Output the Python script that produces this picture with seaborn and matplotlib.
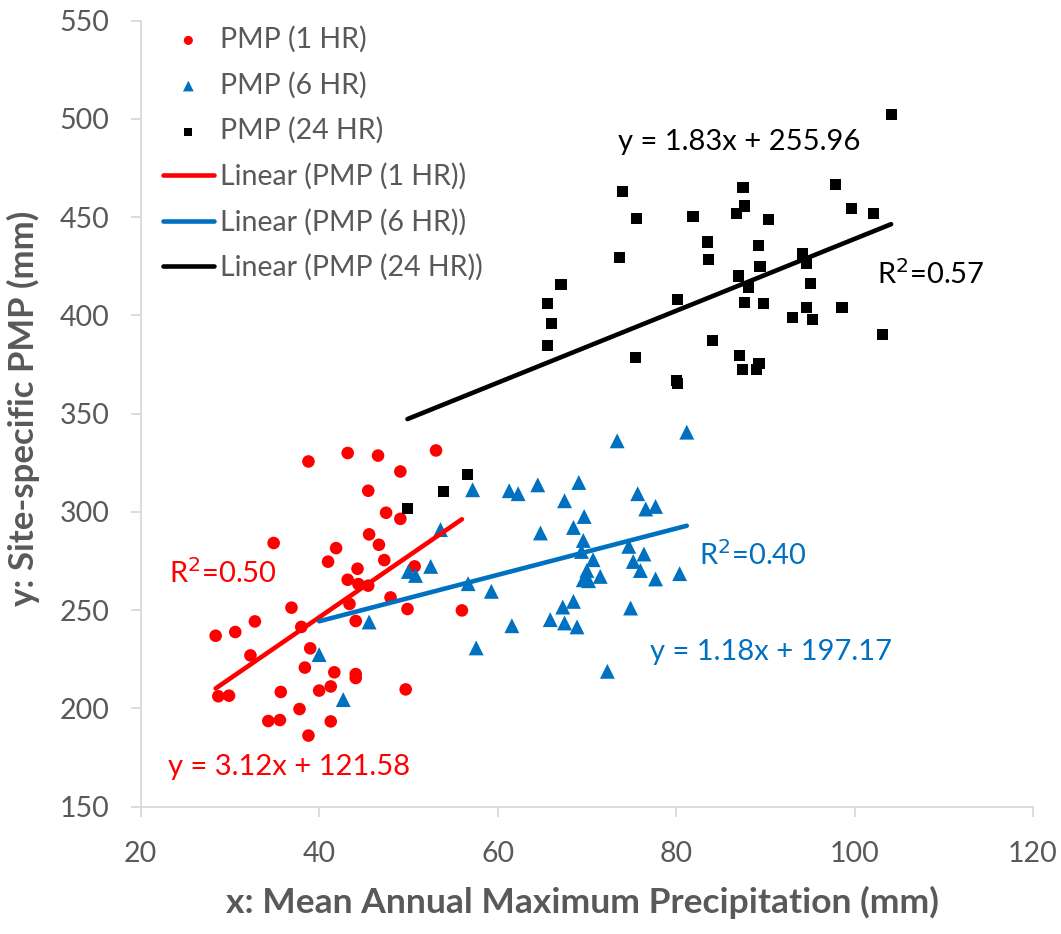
import matplotlib
matplotlib.use("Agg")
import matplotlib.pyplot as plt
import seaborn as sns
import numpy as np

# ---- data ----
red_x = [38.8, 43.2, 46.6, 53.1, 49.1, 45.5, 47.5, 49.1, 34.9, 45.6, 46.7, 41.9,
         41.0, 47.3, 44.3, 50.7, 43.2, 44.4, 45.5, 36.9, 43.4, 48.0, 49.9, 56.0,
         28.4, 30.6, 32.8, 38.0, 44.1, 32.3, 39.0, 38.4, 41.7, 44.1, 44.1, 28.7,
         29.9, 35.7, 40.0, 41.3, 49.7, 37.8, 34.3, 35.6, 41.3, 38.8]
red_y = [325.7, 330.0, 328.7, 331.3, 320.6, 310.8, 299.6, 296.5, 284.2, 288.6, 283.3, 281.6,
         274.7, 275.5, 271.1, 272.3, 265.5, 263.3, 262.5, 251.3, 253.2, 256.5, 250.6, 249.9,
         237.0, 238.9, 244.3, 241.5, 244.5, 227.0, 230.6, 220.8, 218.4, 217.5, 215.5, 206.2,
         206.5, 208.4, 209.1, 211.2, 209.7, 199.7, 193.6, 194.1, 193.4, 186.2]

blue_x = [73.4, 81.2, 57.2, 61.3, 62.3, 64.5, 69.1, 75.7, 67.5, 76.6, 77.7, 69.7,
          53.6, 64.8, 68.5, 69.6, 69.4, 74.7, 70.7, 76.4, 75.2, 76.0, 70.0, 71.5,
          69.6, 70.2, 77.7, 80.4, 50.0, 50.8, 52.5, 56.7, 59.3, 45.6, 67.3, 68.5,
          74.9, 61.6, 65.9, 67.5, 68.9, 57.6, 40.0, 72.3, 42.7]
blue_y = [336.2, 340.6, 311.3, 310.8, 309.3, 313.8, 315.0, 309.3, 305.7, 301.5, 302.8, 297.7,
          291.0, 289.3, 292.1, 285.5, 279.9, 282.5, 275.7, 278.6, 274.8, 270.2, 270.2, 267.2,
          265.5, 265.0, 265.9, 268.6, 269.7, 267.7, 272.3, 263.5, 259.6, 244.0, 251.6, 254.5,
          251.1, 242.1, 245.2, 243.5, 241.5, 230.8, 227.4, 218.9, 204.5]

black_x = [74.0, 75.6, 73.7, 67.1, 65.6, 66.0, 65.6, 81.9, 83.5, 83.6, 80.2, 75.5,
           84.1, 80.0, 80.2, 87.5, 87.7, 86.8, 90.4, 89.2, 89.4, 87.0, 88.1, 87.7,
           89.8, 87.1, 87.4, 89.3, 89.0, 93.0, 94.2, 94.6, 95.1, 94.6, 95.3, 98.6,
           97.9, 99.7, 102.1, 104.1, 103.1, 56.6, 53.9, 49.9]
black_y = [463.0, 449.5, 429.5, 415.9, 405.9, 395.9, 384.7, 450.2, 437.4, 428.3, 408.3, 378.8,
           387.4, 366.7, 365.2, 465.1, 455.7, 452.0, 449.0, 435.4, 424.9, 420.1, 414.2, 406.6,
           405.9, 379.5, 372.3, 375.4, 372.3, 399.1, 431.3, 426.6, 416.1, 404.0, 397.8, 404.0,
           466.8, 454.4, 452.0, 502.4, 390.5, 318.9, 310.3, 301.6]

series_names = ["PMP (1 HR)", "PMP (6 HR)", "PMP (24 HR)"]
slopes = [3.12, 1.18, 1.83]
intercepts = [121.58, 197.17, 255.96]
r2_values = [0.50, 0.40, 0.57]

x_ticks = [20, 40, 60, 80, 100, 120]
y_ticks = [150, 200, 250, 300, 350, 400, 450, 500, 550]

# ---- styling ----
sns.set_theme(style="white")
plt.rcParams['font.family'] = ['Lato', 'DejaVu Sans']

colors = ["#FF0000", "#0070C0", "#000000"]
markers = ["o", "^", "s"]
sizes = [82, 115, 64]
gray = "#595959"

fig = plt.figure(figsize=(10.61, 9.34), dpi=100)
ax = fig.add_axes([0.1326, 0.1363, 0.841, 0.8415])

xs_all = [red_x, blue_x, black_x]
ys_all = [red_y, blue_y, black_y]

for xs, ys, c, m, s, name in zip(xs_all, ys_all, colors, markers, sizes, series_names):
    sns.scatterplot(x=xs, y=ys, marker=m, color=c, s=s, edgecolor="none",
                    linewidth=0, ax=ax, label=name, zorder=3)

for xs, c, k, b, name in zip(xs_all, colors, slopes, intercepts, series_names):
    lx = np.array([min(xs), max(xs)])
    sns.lineplot(x=lx, y=k * lx + b, color=c, linewidth=3.3, ax=ax,
                 label=f"Linear ({name})", zorder=4)

ax.set_xlim(20, 120)
ax.set_ylim(150, 550)
ax.set_xticks(x_ticks)
ax.set_yticks(y_ticks)

for side in ["top", "right"]:
    ax.spines[side].set_visible(False)
for side in ["left", "bottom"]:
    ax.spines[side].set_color("#d9d9d9")
    ax.spines[side].set_linewidth(1.3)

ax.tick_params(axis="both", bottom=True, left=True, direction="out",
               colors="#d9d9d9", labelcolor=gray, labelsize=20.5,
               length=7.5, width=1.3)
ax.tick_params(axis="y", pad=15)
ax.tick_params(axis="x", pad=17)

ax.set_xlabel("x: Mean Annual Maximum Precipitation (mm)", fontsize=25.5,
              fontweight="bold", color=gray)
ax.set_ylabel("y: Site-specific PMP (mm)", fontsize=25,
              fontweight="bold", color=gray)
ax.xaxis.set_label_coords(0.495, -0.101)
ax.yaxis.set_label_coords(-0.113, 0.507)

# legend
handles, labels = ax.get_legend_handles_labels()
leg = ax.legend(handles, labels, loc="upper left",
                bbox_to_anchor=(163 / 1061, 1 - 26 / 934),
                bbox_transform=fig.transFigure, frameon=False,
                fontsize=20.5, labelcolor=gray, handlelength=1.78,
                handletextpad=0.22, labelspacing=0.66, borderpad=0,
                borderaxespad=0, markerscale=0.72)

# equations and R^2
ax.text(73.5, 488.3, "y = 1.83x + 255.96", color=colors[2], fontsize=21,
        ha="left", va="center")
ax.text(102.5, 421.2, "R$^2$=0.57", color=colors[2], fontsize=21,
        ha="left", va="center")
ax.text(82.6, 278.2, "R$^2$=0.40", color=colors[1], fontsize=21,
        ha="left", va="center")
ax.text(77.1, 228.9, "y = 1.18x + 197.17", color=colors[1], fontsize=21,
        ha="left", va="center")
ax.text(23.2, 269.0, "R$^2$=0.50", color=colors[0], fontsize=21,
        ha="left", va="center")
ax.text(23.1, 170.4, "y = 3.12x + 121.58", color=colors[0], fontsize=21,
        ha="left", va="center")

fig.savefig("out.png", dpi=100)
